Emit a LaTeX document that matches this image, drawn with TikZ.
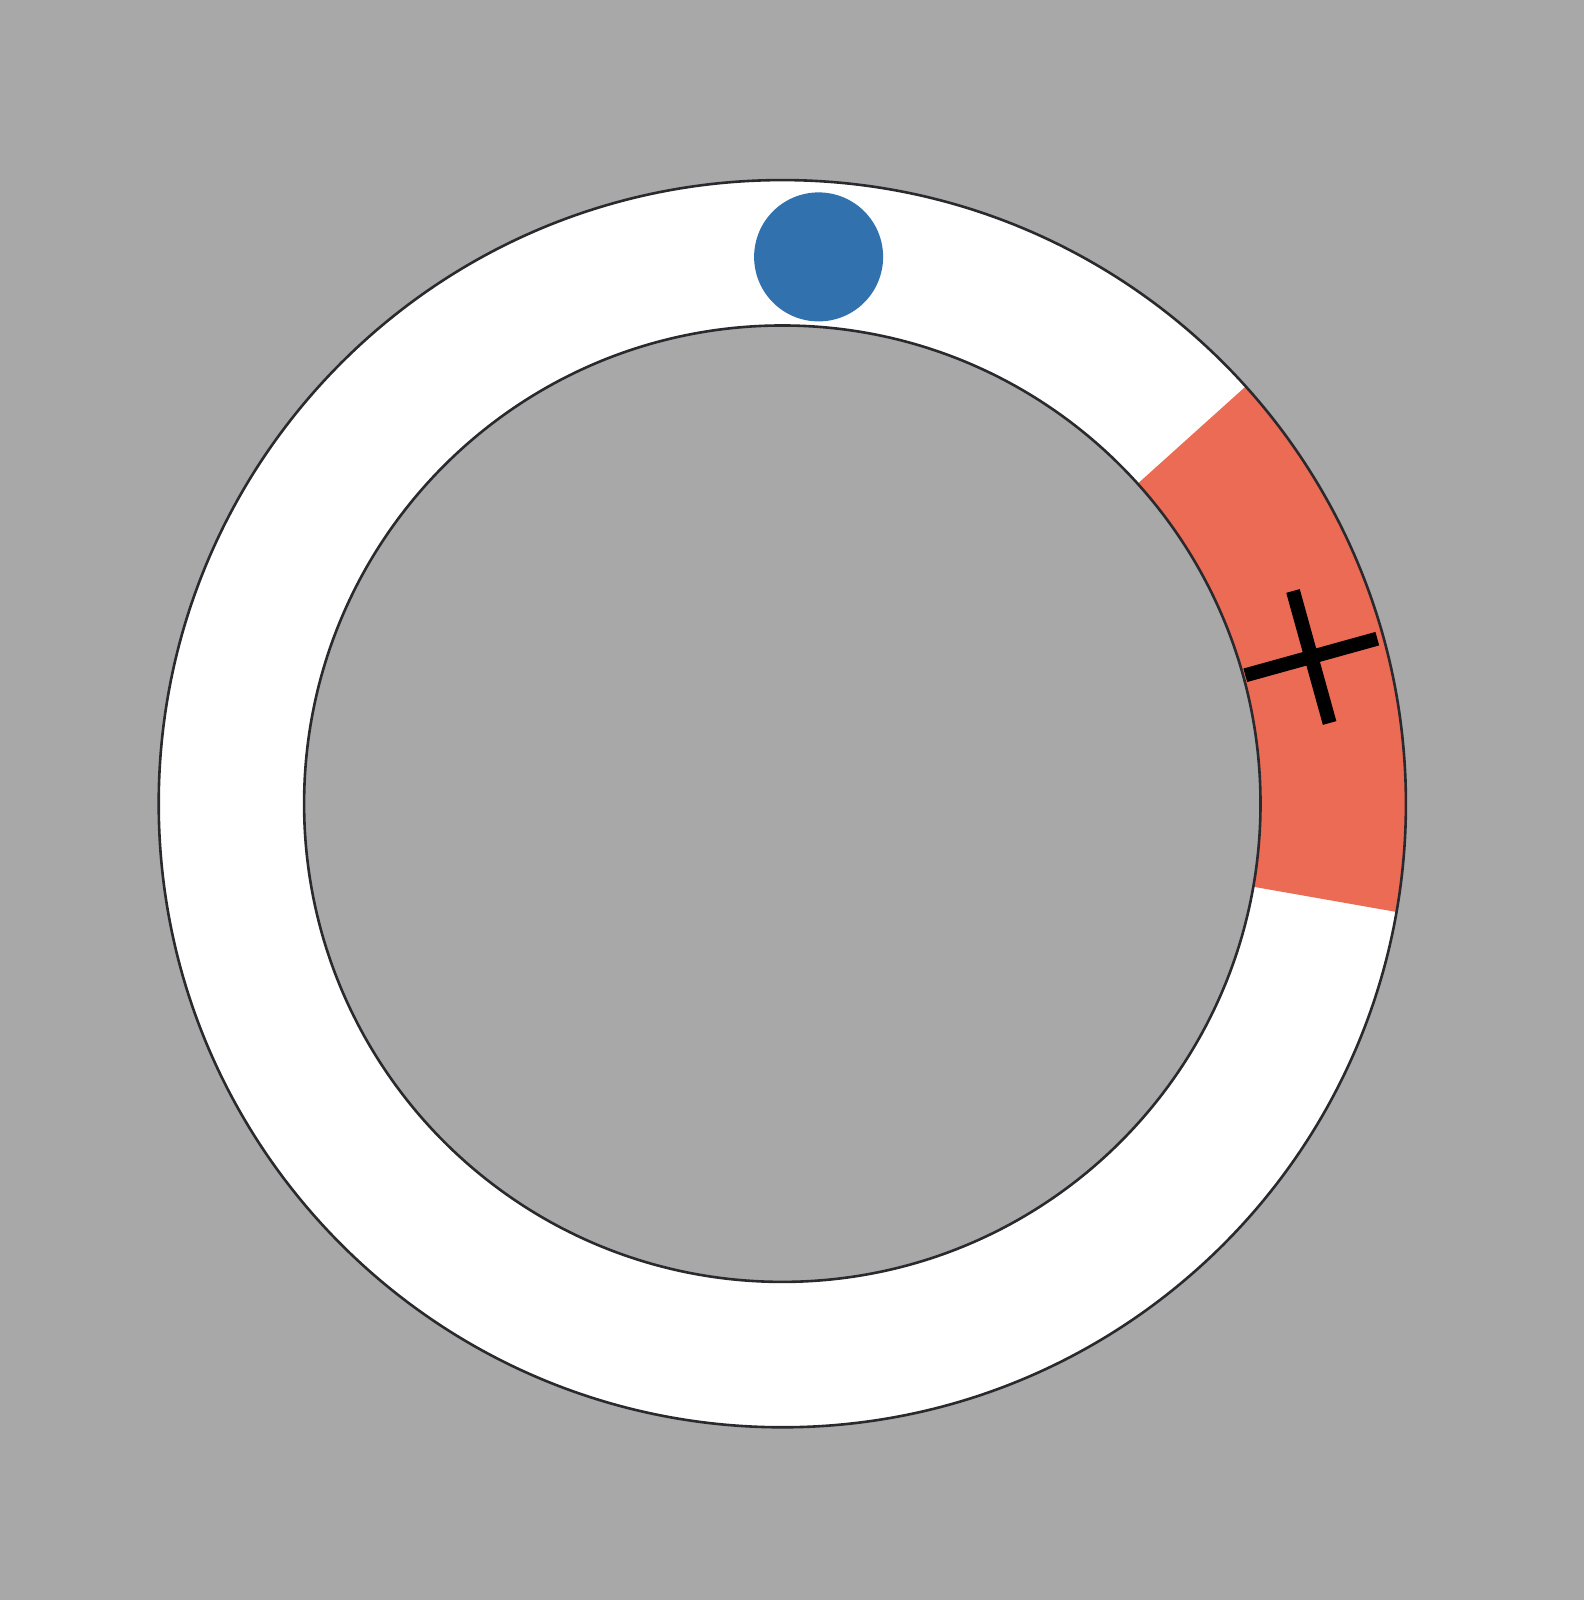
\documentclass[tikz,border=0pt]{standalone}
\definecolor{bg}{HTML}{A8A8A8}
\definecolor{seg}{HTML}{EC6B55}
\definecolor{dotblue}{HTML}{3171AD}
\definecolor{edgecol}{HTML}{2A2A2E}
\tikzset{
  ringedge/.style={draw=edgecol,line width=1.3pt},
  crossarm/.style={draw=black,line width=7pt}
}
\begin{document}
\begin{tikzpicture}[x=0.5pt,y=0.5pt]
\fill[bg] (0,0) rectangle (1584,1600);
\useasboundingbox (0,0) rectangle (1584,1600);
\coordinate (c) at (782.3,796.3);
\fill[white,even odd rule] (c) circle[radius=623.6] (c) circle[radius=478.2];
\fill[seg] ([shift={(-10:478.2)}]c) arc[start angle=-10,end angle=42,radius=478.2]
  -- ([shift={(42:623.6)}]c) arc[start angle=42,end angle=-10,radius=623.6] -- cycle;
\draw[ringedge] (c) circle[radius=623.6];
\draw[ringedge] (c) circle[radius=478.2];
\fill[dotblue] ([shift={(86.2:548)}]c) circle[radius=64.5];
\begin{scope}[shift={(c)},rotate=15.5]
  \coordinate (xc) at (549,0);
  \draw[crossarm] ([xshift=-34.25pt]xc) -- ([xshift=34.25pt]xc);
  \draw[crossarm] ([yshift=-34.25pt]xc) -- ([yshift=34.25pt]xc);
\end{scope}
\end{tikzpicture}
\end{document}
